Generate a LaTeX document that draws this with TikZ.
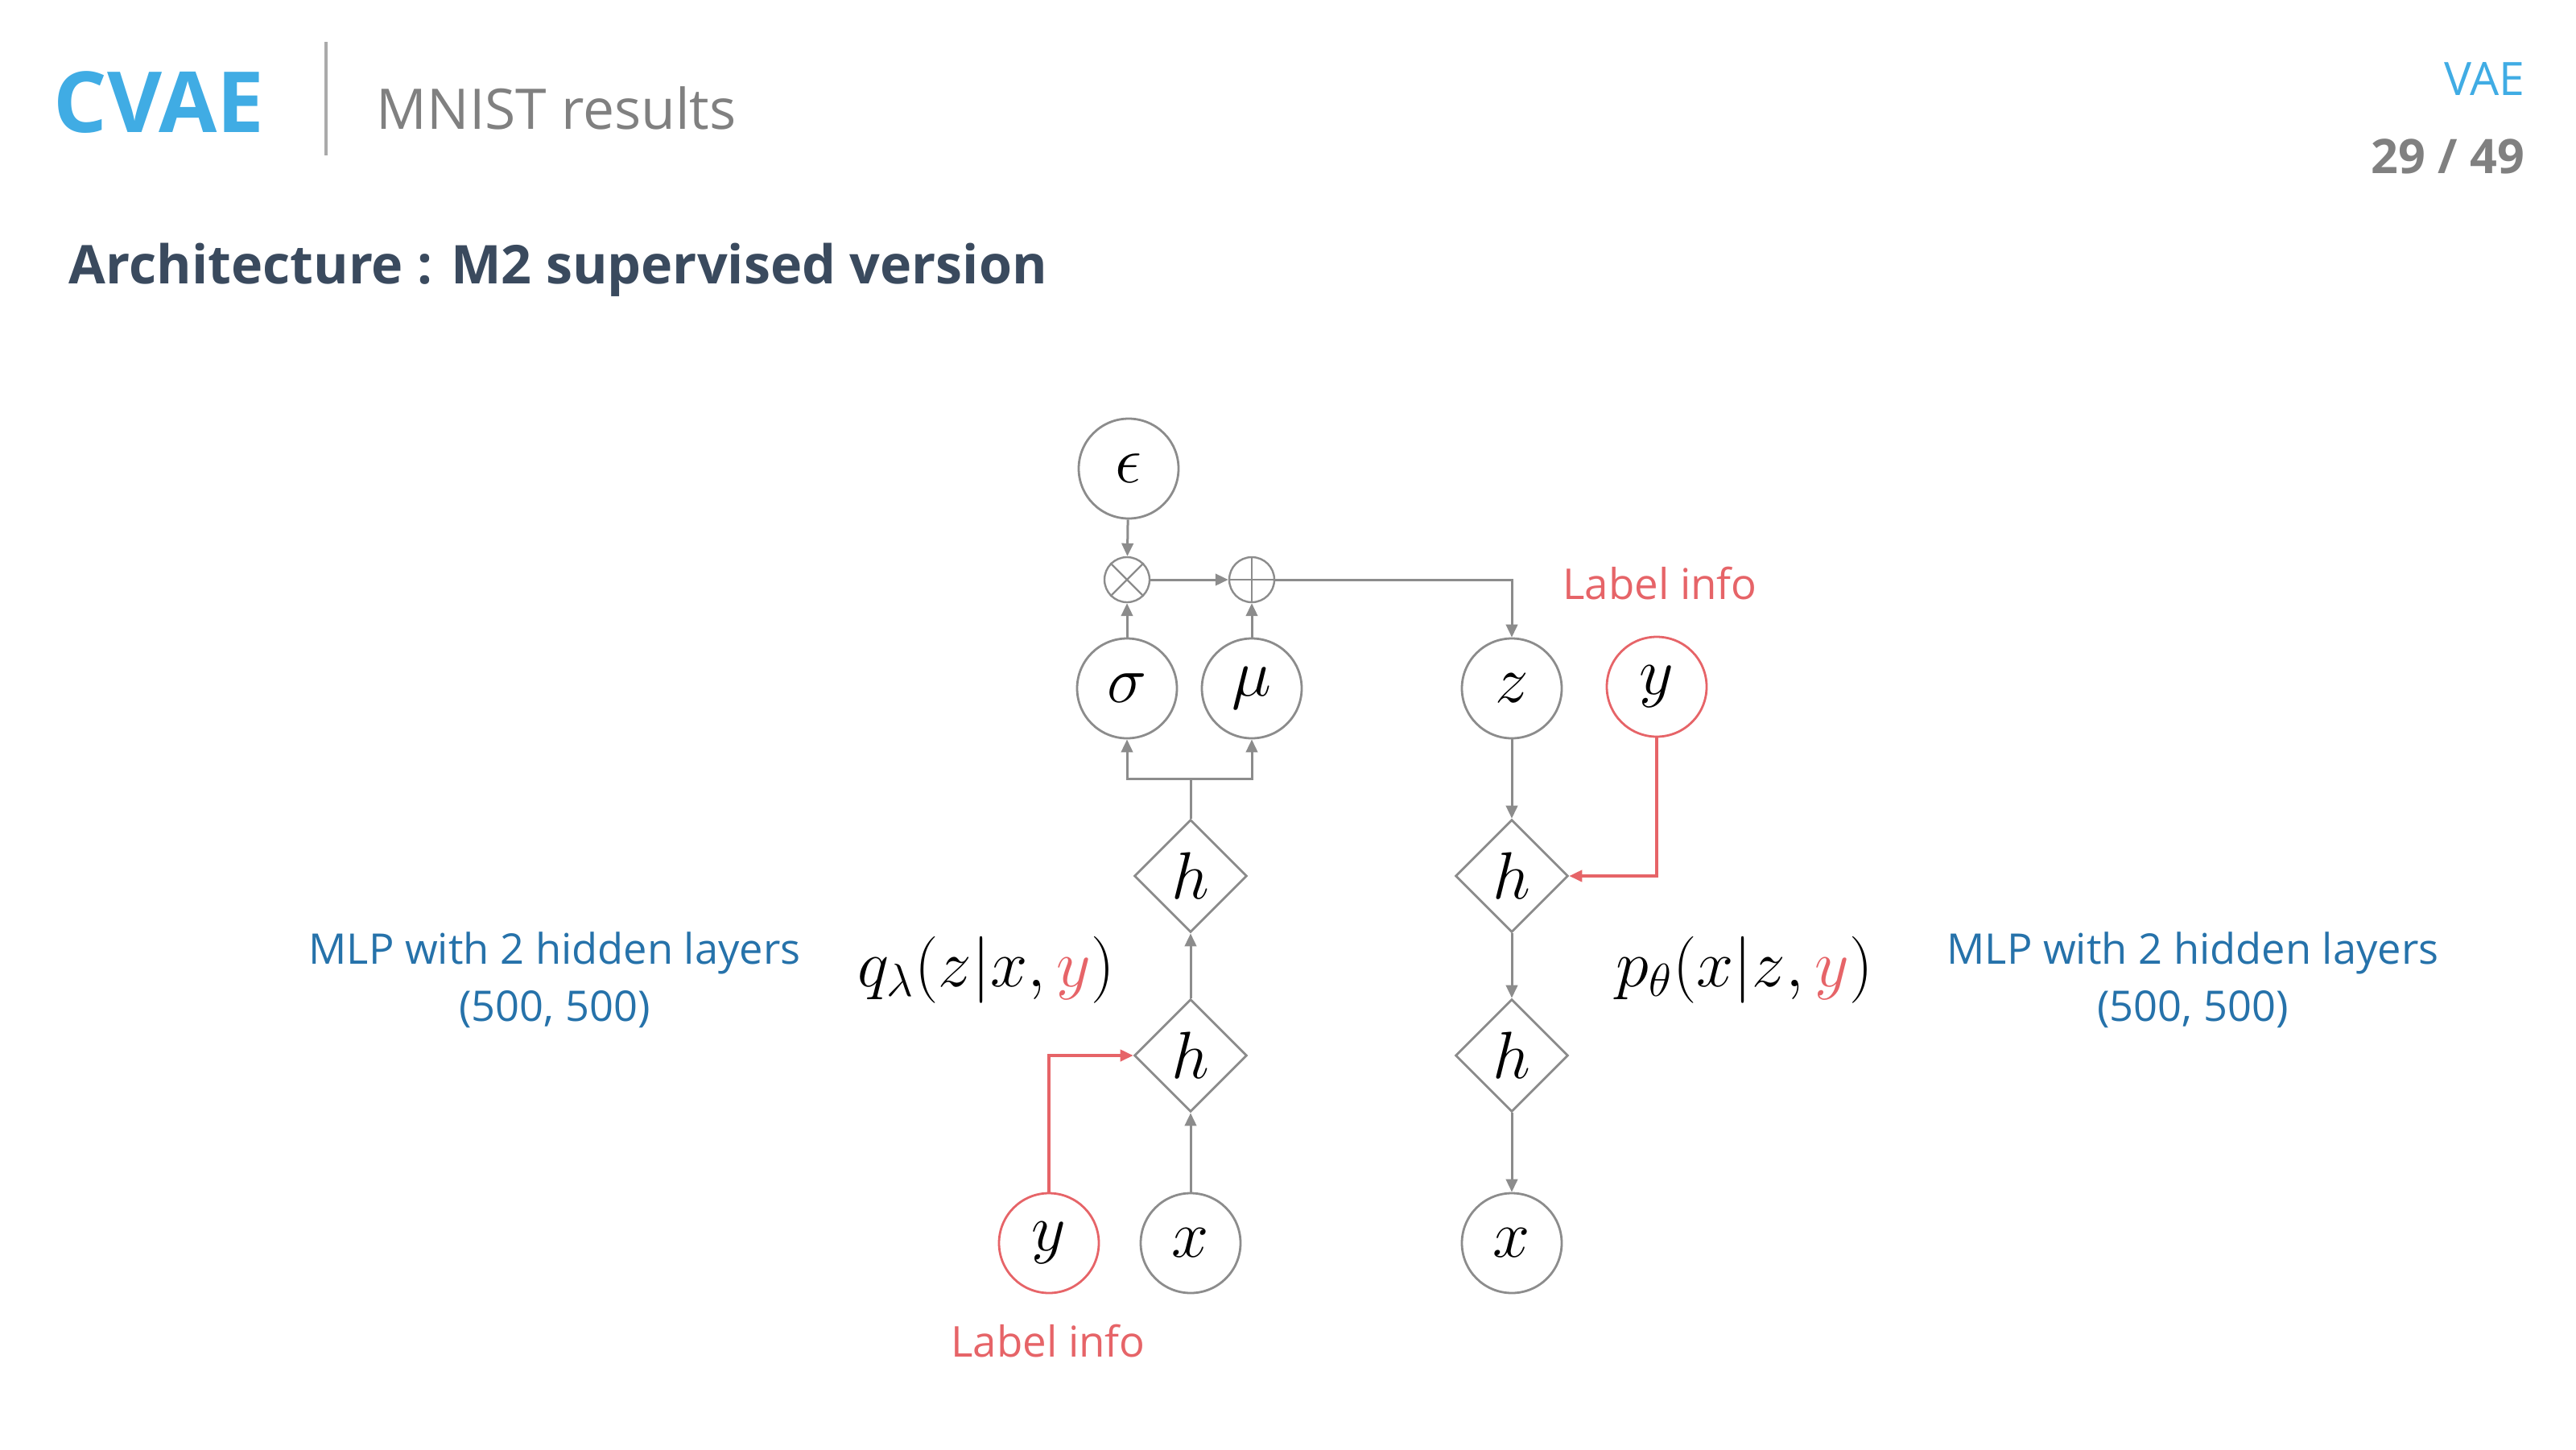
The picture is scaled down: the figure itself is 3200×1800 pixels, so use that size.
\documentclass[tikz,border=0pt]{standalone}
\usepackage{amsmath}
\usepackage[no-math]{fontspec}
\setmainfont{Open Sans}
\usetikzlibrary{arrows.meta,shapes.geometric}

\definecolor{cvaeblue}{RGB}{64,172,228}
\definecolor{titleslate}{RGB}{58,74,94}
\definecolor{headgray}{RGB}{128,128,128}
\definecolor{rulegray}{RGB}{170,170,170}
\definecolor{linegray}{RGB}{140,140,140}
\definecolor{labelred}{RGB}{230,100,104}
\definecolor{mlpblue}{RGB}{38,114,170}

\begin{document}
\begin{tikzpicture}[x=0.25pt,y=-0.25pt,
  var/.style={circle,draw=linegray,line width=0.7pt,minimum size=31pt,inner sep=0pt,font=\fontsize{19.5}{23}\selectfont},
  labvar/.style={var,draw=labelred},
  op/.style={circle,draw=linegray,line width=0.6pt,minimum size=14pt,inner sep=0pt},
  hid/.style={diamond,draw=linegray,line width=0.7pt,minimum width=35pt,minimum height=35pt,inner sep=0pt,font=\fontsize{19.5}{23}\selectfont},
  flow/.style={draw=linegray,line width=0.75pt,-{Triangle[length=4pt,width=3.6pt]}},
  redflow/.style={flow,draw=labelred,line width=0.8pt},
  mlptext/.style={text=mlpblue,font=\fontsize{13.1}{16}\selectfont,inner sep=0pt,anchor=base},
  labinfo/.style={text=labelred,font=\fontsize{13.2}{16}\selectfont,inner sep=0pt,anchor=base},
  dist/.style={font=\fontsize{19.5}{23}\selectfont,inner sep=0pt,anchor=base}]
\useasboundingbox (0,0) rectangle (3200,1800);

% Header
\node (cvae) [anchor=base west,inner sep=0pt,text=cvaeblue,font=\fontsize{26.2}{30}\selectfont\bfseries] at (66,164) {CVAE};
\coordinate (ruletop) at (405,52);
\coordinate (rulebot) at (405,193);
\draw [rulegray,line width=0.8pt] (ruletop) -- (rulebot);
\node (sub) [anchor=base west,inner sep=0pt,text=headgray,font=\fontsize{17.4}{21}\selectfont] at (467,160) {MNIST results};
\node (sect) [anchor=base east,inner sep=0pt,text=cvaeblue,font=\fontsize{14.3}{17}\selectfont] at (3137,118) {VAE};
\node (page) [anchor=base east,inner sep=0pt,text=headgray,font=\fontsize{14.8}{18}\selectfont\bfseries] at (3137,215) {29 / 49};
\node (title) [anchor=base west,inner sep=0pt,text=titleslate,font=\fontsize{16.6}{21}\selectfont\bfseries] at (85,352) {Architecture : M2 supervised version};

% Encoder side
\node (eps) [var] at (1402,582) {$\epsilon$};
\node (mul) [op] at (1400,720) {};
\node (add) [op] at (1555,720) {};
\node (sigma) [var] at (1400,855) {$\sigma$};
\node (mu) [var] at (1555,855) {$\mu$};
\node (h1) [hid] at (1479,1088) {$h$};
\node (h2) [hid] at (1479,1311) {$h$};
\node (yl) [labvar] at (1303,1544) {$y$};
\node (xin) [var] at (1479,1544) {$x$};

% Decoder side
\node (z) [var] at (1878,855) {$z$};
\node (yr) [labvar] at (2058,853) {$y$};
\node (h3) [hid] at (1878,1088) {$h$};
\node (h4) [hid] at (1878,1311) {$h$};
\node (xout) [var] at (1878,1544) {$x$};

% Operator marks
\draw [linegray,line width=0.6pt] (mul.north west) -- (mul.south east) (mul.north east) -- (mul.south west);
\draw [linegray,line width=0.6pt] (add.north) -- (add.south) (add.west) -- (add.east);

% Connectors
\coordinate (split) at (1479,967);
\coordinate (turn) at (1878,720);
\draw [flow] (eps) -- (mul);
\draw [flow] (sigma) -- (mul);
\draw [flow] (mu) -- (add);
\draw [flow] (mul) -- (add);
\draw [flow] (add.east) -- (turn) -- (z);
\draw [draw=linegray,line width=0.75pt] (h1.north) -- (split);
\draw [flow] (split) -| (sigma.south);
\draw [flow] (split) -| (mu.south);
\draw [flow] (h2) -- (h1);
\draw [flow] (xin) -- (h2);
\draw [redflow] (yl.north) |- (h2.west);
\draw [flow] (z) -- (h3);
\draw [flow] (h3) -- (h4);
\draw [flow] (h4) -- (xout);
\draw [redflow] (yr.south) |- (h3.east);

% Text Node
\node (labtop) [labinfo] at (2062,744) {Label info};
\node (labbot) [labinfo] at (1302,1685) {Label info};
\node (qdist) [dist] at (1225,1225) {$q_{\lambda}(z|x,\textcolor{labelred}{y})$};
\node (pdist) [dist] at (2167,1225) {$p_{\theta}(x|z,\textcolor{labelred}{y})$};
\node (mlpl) [mlptext] at (689,1197) {MLP with 2 hidden layers};
\node (mlpl2) [mlptext] at (689,1268) {(500, 500)};
\node (mlpr) [mlptext] at (2724,1197) {MLP with 2 hidden layers};
\node (mlpr2) [mlptext] at (2724,1268) {(500, 500)};

\end{tikzpicture}
\end{document}
